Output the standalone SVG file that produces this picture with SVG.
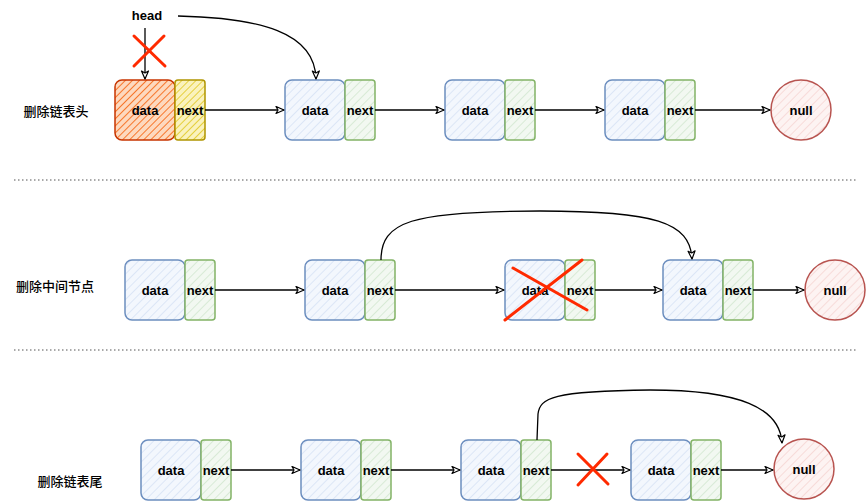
<svg xmlns="http://www.w3.org/2000/svg" width="866" height="501" viewBox="0 0 866 501">
<defs>
<pattern id="hb" width="6" height="6" patternUnits="userSpaceOnUse" patternTransform="rotate(45)"><rect width="6" height="6" fill="#f3f7fd"/><line x1="0" y1="0" x2="0" y2="6" stroke="#c5d6ef" stroke-width="1"/></pattern>
<pattern id="hg" width="6" height="6" patternUnits="userSpaceOnUse" patternTransform="rotate(45)"><rect width="6" height="6" fill="#f2f8f1"/><line x1="0" y1="0" x2="0" y2="6" stroke="#bfdcbc" stroke-width="1"/></pattern>
<pattern id="hr" width="6" height="6" patternUnits="userSpaceOnUse" patternTransform="rotate(45)"><rect width="6" height="6" fill="#fdf3f2"/><line x1="0" y1="0" x2="0" y2="6" stroke="#f2c3c0" stroke-width="1"/></pattern>
<pattern id="ho" width="5" height="5" patternUnits="userSpaceOnUse" patternTransform="rotate(45)"><rect width="5" height="5" fill="#fdd9bf"/><line x1="0" y1="0" x2="0" y2="5" stroke="#f7772c" stroke-width="2"/></pattern>
<pattern id="hy" width="5" height="5" patternUnits="userSpaceOnUse" patternTransform="rotate(45)"><rect width="5" height="5" fill="#faf2bd"/><line x1="0" y1="0" x2="0" y2="5" stroke="#e3cb2e" stroke-width="1.8"/></pattern>
<marker id="arr" markerWidth="10" markerHeight="10" refX="9" refY="4" orient="auto" markerUnits="userSpaceOnUse"><path d="M1,0.5 L9,4 L1,7.5 L3,4 Z" fill="#fff" stroke="#000" stroke-width="1.2" stroke-linejoin="round"/></marker>
</defs>
<style>
.data{fill:url(#hb);stroke:#6c8ebf;stroke-width:1.5}
.next{fill:url(#hg);stroke:#82b366;stroke-width:1.5}
.null{fill:url(#hr);stroke:#b85450;stroke-width:1.5}
.t{font-family:"Liberation Sans","DejaVu Sans",sans-serif;font-size:13px;font-weight:bold;text-anchor:middle;dominant-baseline:central;fill:#000}
.lbl{font-family:"Noto Sans CJK SC",sans-serif;font-size:13px;font-weight:500;text-anchor:middle;dominant-baseline:central;fill:#000}
.c{fill:none;stroke:#000;stroke-width:1.3}
.x{stroke:#ff2a00;stroke-width:3;stroke-linecap:round;fill:none}
.sep{stroke:#555;stroke-width:1.2;stroke-dasharray:1.5 2.5}
</style>
<g id="labels">
<text class="lbl" x="56" y="110">删除链表头</text>
<text class="lbl" x="55" y="285">删除中间节点</text>
<text class="lbl" x="70" y="480">删除链表尾</text>
</g>
<g id="separators">
<line class="sep" x1="14" y1="180" x2="857" y2="180"/>
<line class="sep" x1="14" y1="350" x2="857" y2="350"/>
</g>
<g id="head"><text class="t" x="147" y="15">head</text></g>
<g id="r1n1"><rect x="115" y="80" width="60" height="60" rx="7" fill="url(#ho)" stroke="#c73500" stroke-width="1.5"/><text class="t" x="145" y="110">data</text><rect x="175" y="80" width="30" height="60" rx="3" fill="url(#hy)" stroke="#b09500" stroke-width="1.5"/><text class="t" x="190" y="110">next</text></g>
<g id="r1n2"><rect class="data" x="285" y="80" width="60" height="60" rx="7"/><text class="t" x="315" y="110">data</text><rect class="next" x="345" y="80" width="30" height="60" rx="3"/><text class="t" x="360" y="110">next</text></g>
<g id="r1n3"><rect class="data" x="445" y="80" width="60" height="60" rx="7"/><text class="t" x="475" y="110">data</text><rect class="next" x="505" y="80" width="30" height="60" rx="3"/><text class="t" x="520" y="110">next</text></g>
<g id="r1n4"><rect class="data" x="605" y="80" width="60" height="60" rx="7"/><text class="t" x="635" y="110">data</text><rect class="next" x="665" y="80" width="30" height="60" rx="3"/><text class="t" x="680" y="110">next</text></g>
<g id="r1null"><circle class="null" cx="801" cy="110" r="30"/><text class="t" x="801" y="110">null</text></g>
<g id="r2n1"><rect class="data" x="125" y="260" width="60" height="60" rx="7"/><text class="t" x="155" y="290">data</text><rect class="next" x="185" y="260" width="30" height="60" rx="3"/><text class="t" x="200" y="290">next</text></g>
<g id="r2n2"><rect class="data" x="305" y="260" width="60" height="60" rx="7"/><text class="t" x="335" y="290">data</text><rect class="next" x="365" y="260" width="30" height="60" rx="3"/><text class="t" x="380" y="290">next</text></g>
<g id="r2n3"><rect class="data" x="505" y="260" width="60" height="60" rx="7"/><text class="t" x="535" y="290">data</text><rect class="next" x="565" y="260" width="30" height="60" rx="3"/><text class="t" x="580" y="290">next</text></g>
<g id="r2n4"><rect class="data" x="663" y="260" width="60" height="60" rx="7"/><text class="t" x="693" y="290">data</text><rect class="next" x="723" y="260" width="30" height="60" rx="3"/><text class="t" x="738" y="290">next</text></g>
<g id="r2null"><circle class="null" cx="835" cy="290" r="30"/><text class="t" x="835" y="290">null</text></g>
<g id="r3n1"><rect class="data" x="141" y="440" width="60" height="60" rx="7"/><text class="t" x="171" y="470">data</text><rect class="next" x="201" y="440" width="30" height="60" rx="3"/><text class="t" x="216" y="470">next</text></g>
<g id="r3n2"><rect class="data" x="301" y="440" width="60" height="60" rx="7"/><text class="t" x="331" y="470">data</text><rect class="next" x="361" y="440" width="30" height="60" rx="3"/><text class="t" x="376" y="470">next</text></g>
<g id="r3n3"><rect class="data" x="461" y="440" width="60" height="60" rx="7"/><text class="t" x="491" y="470">data</text><rect class="next" x="521" y="440" width="30" height="60" rx="3"/><text class="t" x="536" y="470">next</text></g>
<g id="r3n4"><rect class="data" x="631" y="440" width="60" height="60" rx="7"/><text class="t" x="661" y="470">data</text><rect class="next" x="691" y="440" width="30" height="60" rx="3"/><text class="t" x="706" y="470">next</text></g>
<g id="r3null"><circle class="null" cx="804" cy="469" r="30"/><text class="t" x="804" y="469">null</text></g>
<g id="connectors">
<line class="c" x1="145" y1="28" x2="145" y2="79" marker-end="url(#arr)"/>
<path class="c" d="M178,16 C260,18 315,32 316,79" marker-end="url(#arr)"/>
<line class="c" x1="205" y1="110" x2="284" y2="110" marker-end="url(#arr)"/>
<line class="c" x1="375" y1="110" x2="444" y2="110" marker-end="url(#arr)"/>
<line class="c" x1="535" y1="110" x2="604" y2="110" marker-end="url(#arr)"/>
<line class="c" x1="695" y1="110" x2="770" y2="110" marker-end="url(#arr)"/>
<path class="c" d="M381,260 C381,222 410,211 540,211 C655,211 690,222 692,259" marker-end="url(#arr)"/>
<line class="c" x1="215" y1="290" x2="304" y2="290" marker-end="url(#arr)"/>
<line class="c" x1="395" y1="290" x2="504" y2="290" marker-end="url(#arr)"/>
<line class="c" x1="595" y1="290" x2="662" y2="290" marker-end="url(#arr)"/>
<line class="c" x1="753" y1="290" x2="804" y2="290" marker-end="url(#arr)"/>
<path class="c" d="M537,440 L538,414 C540,398 552,391 650,390 C740,390 780,408 782,443" marker-end="url(#arr)"/>
<line class="c" x1="231" y1="470" x2="300" y2="470" marker-end="url(#arr)"/>
<line class="c" x1="391" y1="470" x2="460" y2="470" marker-end="url(#arr)"/>
<line class="c" x1="551" y1="470" x2="630" y2="470" marker-end="url(#arr)"/>
<line class="c" x1="721" y1="470" x2="773" y2="470" marker-end="url(#arr)"/>
</g>
<g id="crosses">
<path class="x" d="M134,36 L165,66 M164,36 L134,66"/>
<path class="x" d="M505,320 L582,260 M513,268 L587,310"/>
<path class="x" d="M578,454 L608,484 M607,454 L578,485"/>
</g>
</svg>
